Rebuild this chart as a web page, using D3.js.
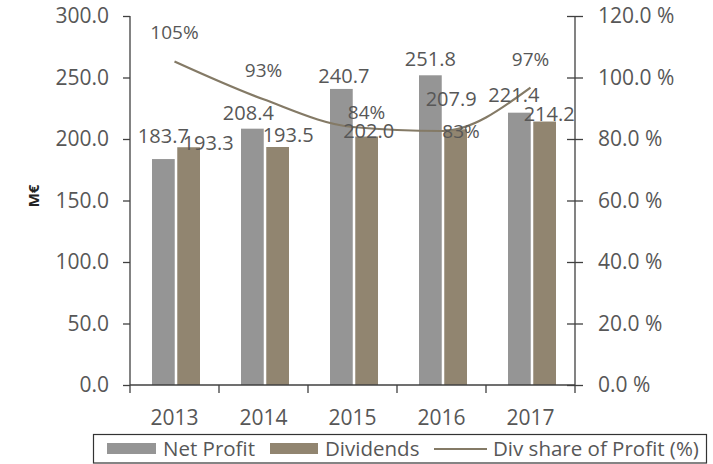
<!DOCTYPE html>
<html>
<head>
<meta charset="utf-8">
<script src="https://cdn.jsdelivr.net/npm/d3@7"></script>
<style>
  html, body { margin: 0; padding: 0; background: #fff; }
  svg { display: block; font-family: "Open Sans", sans-serif; }
</style>
</head>
<body>
<svg id="chart" width="713" height="464"></svg>
<script>
// ---- data ----
const years = ["2013", "2014", "2015", "2016", "2017"];
const netProfit = [183.7, 208.4, 240.7, 251.8, 221.4];
const dividends = [193.3, 193.5, 202.0, 207.9, 214.2];
const divShare = [105.2, 92.9, 83.9, 82.6, 96.7];
const divShareLabels = ["105%", "93%", "84%", "83%", "97%"];
const leftTicks = [0, 50, 100, 150, 200, 250, 300];
const rightTicks = [0, 20, 40, 60, 80, 100, 120];
const seriesNames = ["Net Profit", "Dividends", "Div share of Profit (%)"];

// label nudges (layout, px) as placed in the original
const npLabelDx = [0, -4, 2.5, 0, -5.5];
const npLabelDy = [-16, -9, -6, -9, -11];
const dvLabelDx = [19.5, 10.5, 2, -4.5, 4.5];
const dvLabelDy = [3, -5, 1, -23, -1];
const pcLabelDx = [0, 0, 14, 19.5, 0];
const pcLabelDy = [-22.5, -22.5, -8.5, 7, -22];

const colNet = "#959595", colDiv = "#918570", colLine = "#847a66", txt = "#575757", axc = "#404040";
const svg = d3.select("#chart");

const pLeft = 130, pRight = 575, pTop = 16, pBottom = 385;
const x0 = d3.scaleBand().domain(years).range([pLeft, pRight]);
const x1 = d3.scaleBand().domain(["np", "dv"]).range([22, 70]).paddingInner(0.1);
const yL = d3.scaleLinear().domain([0, 300]).range([pBottom, pTop]);
const yR = d3.scaleLinear().domain([0, 120]).range([pBottom, pTop]);

// bars
const g = svg.append("g");
years.forEach((yr, i) => {
  g.append("rect").attr("x", x0(yr) + x1("np")).attr("y", yL(netProfit[i]))
    .attr("width", x1.bandwidth()).attr("height", yL(0) - yL(netProfit[i]))
    .attr("fill", colNet);
  g.append("rect").attr("x", x0(yr) + x1("dv")).attr("y", yL(dividends[i]))
    .attr("width", x1.bandwidth()).attr("height", yL(0) - yL(dividends[i]))
    .attr("fill", colDiv);
});

// line
const cx = yr => x0(yr) + x0.bandwidth() / 2;
const line = d3.line().x((d, i) => cx(years[i])).y(d => yR(d)).curve(d3.curveMonotoneX);
svg.append("path").datum(divShare).attr("d", line).attr("fill", "none")
  .attr("stroke", colLine).attr("stroke-width", 2.2);

// axes
const axL = svg.append("g").attr("transform", `translate(${pLeft},0)`)
  .call(d3.axisLeft(yL).tickValues(leftTicks).tickFormat(d3.format(".1f")).tickSize(7).tickPadding(14));
const axR = svg.append("g").attr("transform", `translate(${pRight},0)`)
  .call(d3.axisRight(yR).tickValues(rightTicks).tickFormat(d => d3.format(".1f")(d) + " %").tickSize(8).tickPadding(15));
axR.selectAll(".tick line").attr("x1", -8).attr("x2", 8);
[axL, axR].forEach(a => {
  a.select(".domain").attr("stroke", axc).attr("stroke-width", 1.3);
  a.selectAll(".tick line").attr("stroke", axc).attr("stroke-width", 1.3);
  a.selectAll(".tick text").attr("fill", txt).style("font-size", "21px").style("font-family", "Open Sans");
});
axL.select(".domain").attr("d", `M0,${pTop}V${pBottom}`);
axR.select(".domain").attr("d", `M0,${pTop}V${pBottom}`);

// x axis
const xa = svg.append("g");
xa.append("line").attr("x1", pLeft).attr("x2", pRight).attr("y1", pBottom).attr("y2", pBottom)
  .attr("stroke", axc).attr("stroke-width", 1.3);
const bounds = years.map(y => x0(y)).concat([pRight]);
bounds.forEach(b => xa.append("line").attr("x1", b).attr("x2", b).attr("y1", pBottom).attr("y2", pBottom + 8)
  .attr("stroke", axc).attr("stroke-width", 1.3));
years.forEach(yr => xa.append("text").attr("x", cx(yr)).attr("y", 425).attr("text-anchor", "middle")
  .attr("fill", txt).style("font-size", "21px").text(yr));

// data labels
years.forEach((yr, i) => {
  svg.append("text").attr("x", x0(yr) + x1("np") + x1.bandwidth() / 2 + npLabelDx[i])
    .attr("y", yL(netProfit[i]) + npLabelDy[i]).attr("text-anchor", "middle")
    .attr("fill", txt).style("font-size", "20px").text(netProfit[i].toFixed(1));
  svg.append("text").attr("x", x0(yr) + x1("dv") + x1.bandwidth() / 2 + dvLabelDx[i])
    .attr("y", yL(dividends[i]) + dvLabelDy[i]).attr("text-anchor", "middle")
    .attr("fill", txt).style("font-size", "20px").text(dividends[i].toFixed(1));
  svg.append("text").attr("x", cx(yr) + pcLabelDx[i])
    .attr("y", yR(divShare[i]) + pcLabelDy[i]).attr("text-anchor", "middle")
    .attr("fill", txt).style("font-size", "19px").text(divShareLabels[i]);
});

// y title
svg.append("text").attr("transform", "translate(38.5,196) rotate(-90)").attr("text-anchor", "middle")
  .attr("fill", "#222").style("font-size", "15px").style("font-weight", "bold").text("M€");

// legend
const lg = svg.append("g");
lg.append("rect").attr("x", 93.5).attr("y", 434.5).attr("width", 613).attr("height", 28.5)
  .attr("fill", "#fff").attr("stroke", "#333").attr("stroke-width", 1.2);
lg.append("rect").attr("x", 107).attr("y", 443).attr("width", 49).attr("height", 11).attr("fill", colNet);
lg.append("text").attr("x", 163).attr("y", 456).attr("fill", txt).style("font-size", "20.5px").text(seriesNames[0]);
lg.append("rect").attr("x", 270).attr("y", 443).attr("width", 48).attr("height", 11).attr("fill", colDiv);
lg.append("text").attr("x", 325).attr("y", 456).attr("fill", txt).style("font-size", "20.5px").text(seriesNames[1]);
lg.append("line").attr("x1", 434).attr("x2", 487).attr("y1", 449).attr("y2", 449).attr("stroke", colLine).attr("stroke-width", 2.2);
lg.append("text").attr("x", 493).attr("y", 456).attr("fill", txt).style("font-size", "20.5px").text(seriesNames[2]);
</script>
</body>
</html>
